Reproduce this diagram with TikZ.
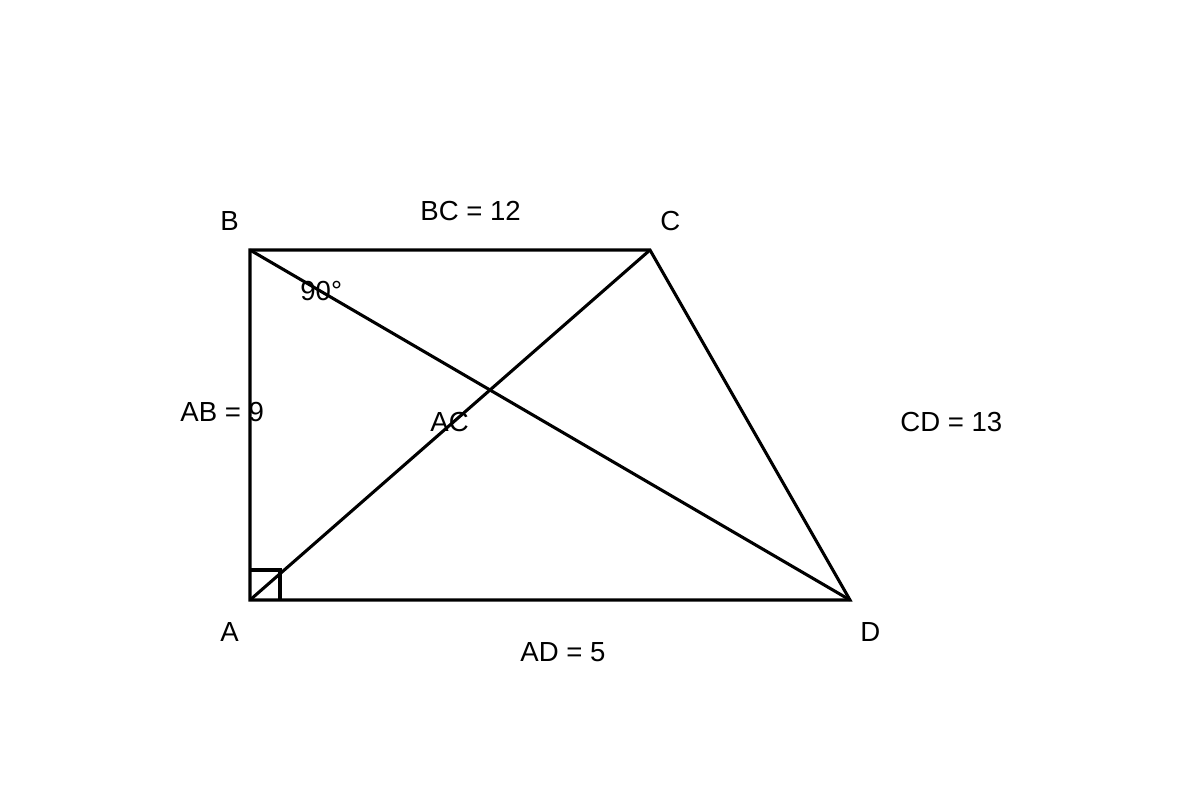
\documentclass[tikz,border=0pt]{standalone}
\usepackage{fontspec}
\setmainfont{Liberation Sans}
\begin{document}
\begin{tikzpicture}[x=0.02cm,y=-0.02cm,
  edge/.style={line width=1.75pt, line join=miter},
  lbl/.style={anchor=base west, inner sep=0pt, font=\fontsize{15.7}{18}\selectfont}]
\useasboundingbox (0,0) rectangle (1200,800);
\coordinate (A) at (250,600);
\coordinate (B) at (250,250);
\coordinate (C) at (650,250);
\coordinate (D) at (850,600);
\coordinate (S1) at (250,570);
\coordinate (S2) at (280,570);
\coordinate (S3) at (280,600);
\draw[edge] (A) -- (B) -- (C) -- (D) -- cycle;
\draw[edge] (A) -- (C);
\draw[edge] (B) -- (D);
\draw[edge] (S1) -- (S2) -- (S3);
\node[lbl] (lB) at (220,231) {B};
\node[lbl] (lC) at (660,231) {C};
\node[lbl] (lA) at (220,641) {A};
\node[lbl] (lD) at (860,641) {D};
\node[lbl] (lBC) at (420,221) {BC = 12};
\node[lbl] (lAB) at (180,421) {AB = 9};
\node[lbl] (lAC) at (430,431) {AC};
\node[lbl] (lCD) at (900,431) {CD = 13};
\node[lbl] (lAD) at (520,661) {AD = 5};
\node[lbl] (l90) at (300,301) {90°};
\end{tikzpicture}
\end{document}
